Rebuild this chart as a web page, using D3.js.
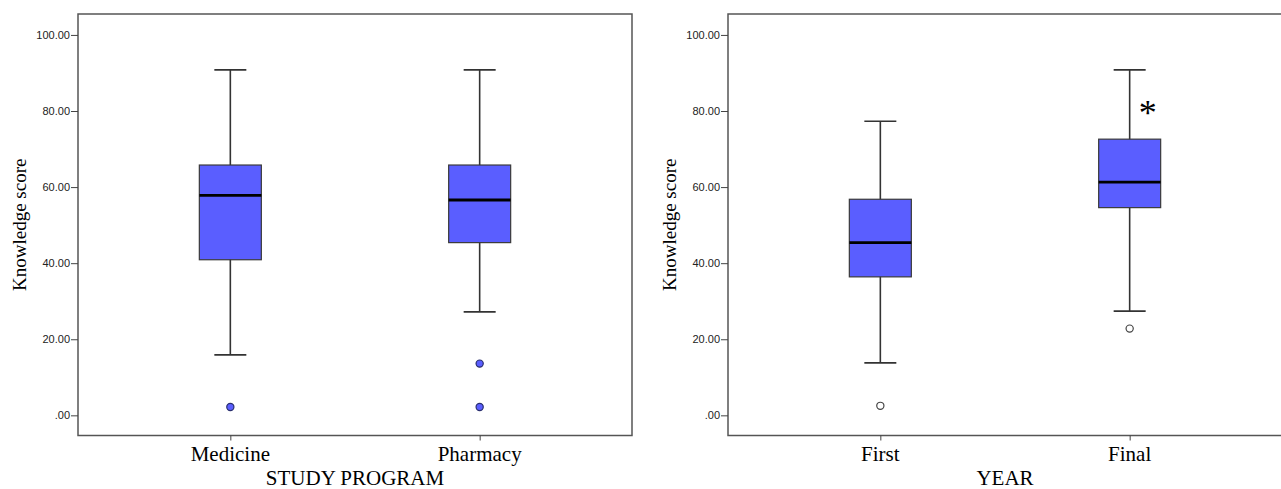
<!DOCTYPE html>
<html>
<head>
<meta charset="utf-8">
<script src="https://cdn.jsdelivr.net/npm/d3@7"></script>
<style>
  body { margin: 0; background: #fff; }
  svg { display: block; }
  .tick text { font-family: "Liberation Sans", Arial, sans-serif; font-size: 11px; fill: #222; }
  .tick line { stroke: #444; }
</style>
</head>
<body>
<div id="chart"></div>
<script>
// ---- data ----
const programs = ["Medicine", "Pharmacy"];
// [lowWhisker, q1, median, q3, highWhisker]
const programStats = [
  [15.9, 40.9, 57.8, 65.8, 90.8],
  [27.2, 45.4, 56.6, 65.8, 90.8]
];
const programOutliers = [[2.2], [13.6, 2.2]];

const years = ["First", "Final"];
const yearStats = [
  [13.8, 36.4, 45.4, 56.8, 77.3],
  [27.4, 54.6, 61.3, 72.6, 90.8]
];
const yearOutliers = [[2.5], [22.8]];
const yearMarks = [null, 80.4]; // the "*" beside Final

const yTicks = [0, 20, 40, 60, 80, 100];

const width = 1281, height = 489;
const plotTop = 14, plotBottom = 435.5;
const panelW = 554;

const svg = d3.select("#chart")
    .append("svg")
    .attr("width", width)
    .attr("height", height);

const y = d3.scaleLinear()
    .domain([-5.3, 105.5])
    .range([plotBottom, plotTop]);

function drawPanel(left, cats, stats, outliers, title, filled, marks) {
    const g = svg.append("g").attr("transform", `translate(${left},0)`);

    const x = d3.scalePoint()
        .domain(cats)
        .range([0, panelW])
        .padding(0.611);

    // frame
    g.append("rect")
        .attr("x", 0).attr("y", plotTop)
        .attr("width", panelW).attr("height", plotBottom - plotTop)
        .attr("fill", "none")
        .attr("stroke", "#555")
        .attr("stroke-width", 1.5);

    const yAxis = d3.axisLeft(y)
        .tickValues(yTicks)
        .tickSize(7)
        .tickPadding(1)
        .tickFormat(d => d === 0 ? ".00" : d.toFixed(2));
    g.append("g").call(yAxis).call(a => a.select(".domain").remove());

    const xAxis = d3.axisBottom(x).tickSize(5).tickFormat("");
    g.append("g")
        .attr("transform", `translate(0,${plotBottom})`)
        .call(xAxis)
        .call(a => a.select(".domain").remove());

    const boxW = 62, capW = 32;
    const box = g.selectAll(".box")
        .data(stats.map((s, i) => ({ key: cats[i], s: s })))
        .enter().append("g")
        .attr("class", "box")
        .attr("transform", d => `translate(${x(d.key)},0)`);

    // whiskers
    box.append("line")
        .attr("x1", 0).attr("x2", 0)
        .attr("y1", d => y(d.s[0])).attr("y2", d => y(d.s[4]))
        .attr("stroke", "#333").attr("stroke-width", 1.6);
    box.selectAll(".cap")
        .data(d => [d.s[0], d.s[4]])
        .enter().append("line")
        .attr("x1", -capW / 2).attr("x2", capW / 2)
        .attr("y1", v => y(v)).attr("y2", v => y(v))
        .attr("stroke", "#333").attr("stroke-width", 1.6);

    box.append("rect")
        .attr("x", -boxW / 2)
        .attr("y", d => y(d.s[3]))
        .attr("width", boxW)
        .attr("height", d => y(d.s[1]) - y(d.s[3]))
        .attr("fill", "#5a5eff")
        .attr("stroke", "#3a3a3a")
        .attr("stroke-width", 1.2);

    box.append("line")
        .attr("x1", -boxW / 2).attr("x2", boxW / 2)
        .attr("y1", d => y(d.s[2])).attr("y2", d => y(d.s[2]))
        .attr("stroke", "#000").attr("stroke-width", 2.8);

    // outliers
    const pts = [];
    outliers.forEach((arr, i) => arr.forEach(v => pts.push({ key: cats[i], v: v })));
    g.selectAll(".out")
        .data(pts)
        .enter().append("circle")
        .attr("cx", d => x(d.key))
        .attr("cy", d => y(d.v))
        .attr("r", 3.6)
        .attr("fill", filled ? "#5a5eff" : "#fff")
        .attr("stroke", filled ? "#2a2f6e" : "#444")
        .attr("stroke-width", 1.2);

    if (marks) {
        g.selectAll(".mark")
            .data(marks.map((m, i) => ({ key: cats[i], v: m })).filter(d => d.v != null))
            .enter().append("text")
            .attr("x", d => x(d.key) + 18)
            .attr("y", d => y(d.v) + 16)
            .attr("text-anchor", "middle")
            .style("font-family", "'Liberation Serif', 'Times New Roman', serif")
            .style("font-size", "36px")
            .text("*");
    }

    // category labels
    g.selectAll(".cat")
        .data(cats)
        .enter().append("text")
        .attr("x", d => x(d))
        .attr("y", 461)
        .attr("text-anchor", "middle")
        .style("font-family", "'Liberation Serif', 'Times New Roman', serif")
        .style("font-size", "21px")
        .text(d => d);

    g.append("text")
        .attr("x", panelW / 2)
        .attr("y", 485)
        .attr("text-anchor", "middle")
        .style("font-family", "'Liberation Serif', 'Times New Roman', serif")
        .style("font-size", "21px")
        .text(title);

    g.append("text")
        .attr("transform", `translate(-52,${(plotTop + plotBottom) / 2}) rotate(-90)`)
        .attr("text-anchor", "middle")
        .style("font-family", "'Liberation Serif', 'Times New Roman', serif")
        .style("font-size", "19px")
        .text("Knowledge score");
}

drawPanel(78, programs, programStats, programOutliers, "STUDY PROGRAM", true, null);
drawPanel(728, years, yearStats, yearOutliers, "YEAR", false, yearMarks);
</script>
</body>
</html>
